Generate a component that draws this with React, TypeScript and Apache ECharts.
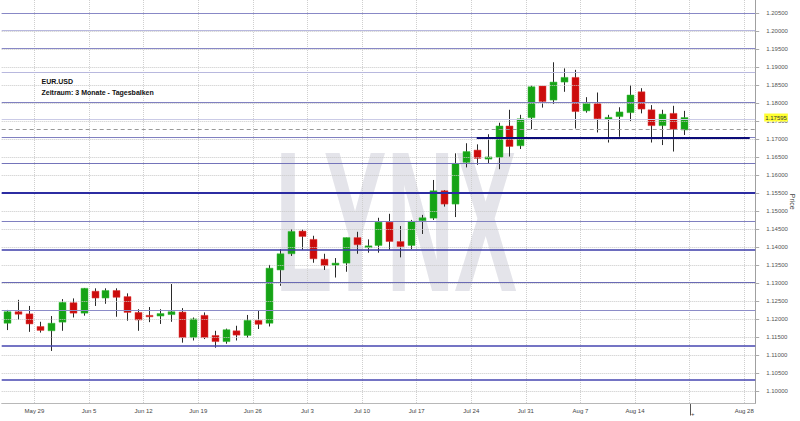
import React, { useEffect, useRef } from "react";
import * as echarts from "echarts";

const categories = [
  "2017-05-24", "2017-05-25", "2017-05-26",
  "2017-05-29", "2017-05-30", "2017-05-31", "2017-06-01", "2017-06-02",
  "2017-06-05", "2017-06-06", "2017-06-07", "2017-06-08", "2017-06-09",
  "2017-06-12", "2017-06-13", "2017-06-14", "2017-06-15", "2017-06-16",
  "2017-06-19", "2017-06-20", "2017-06-21", "2017-06-22", "2017-06-23",
  "2017-06-26", "2017-06-27", "2017-06-28", "2017-06-29", "2017-06-30",
  "2017-07-03", "2017-07-04", "2017-07-05", "2017-07-06", "2017-07-07",
  "2017-07-10", "2017-07-11", "2017-07-12", "2017-07-13", "2017-07-14",
  "2017-07-17", "2017-07-18", "2017-07-19", "2017-07-20", "2017-07-21",
  "2017-07-24", "2017-07-25", "2017-07-26", "2017-07-27", "2017-07-28",
  "2017-07-31", "2017-08-01", "2017-08-02", "2017-08-03", "2017-08-04",
  "2017-08-07", "2017-08-08", "2017-08-09", "2017-08-10", "2017-08-11",
  "2017-08-14", "2017-08-15", "2017-08-16", "2017-08-17", "2017-08-18",
  "2017-08-21", "2017-08-22", "2017-08-23", "2017-08-24", "2017-08-25",
  "2017-08-28",
];

const opens = [
  1.1188, 1.1220, 1.1214, 1.1179, 1.1167, 1.1191, 1.1245, 1.1216, 1.1277, 1.1258,
  1.1279, 1.1262, 1.1218, 1.1210, 1.1208, 1.1212, 1.1219, 1.1148, 1.1210, 1.1154,
  1.1137, 1.1167, 1.1154, 1.1196, 1.1188, 1.1336, 1.1381, 1.1444, 1.1421, 1.1366,
  1.1349, 1.1355, 1.1426, 1.1398, 1.1404, 1.1469, 1.1415, 1.1404, 1.1473, 1.1480,
  1.1556, 1.1519, 1.1635, 1.1669, 1.1644, 1.1649, 1.1736, 1.1681, 1.1759, 1.1847,
  1.1808, 1.1858, 1.1871, 1.1778, 1.1799, 1.1755, 1.1762, 1.1773, 1.1831, 1.1781,
  1.1737, 1.1771, 1.1725,
];
const closes = [
  1.1220, 1.1213, 1.1186, 1.1168, 1.1188, 1.1246, 1.1216, 1.1285, 1.1258, 1.1279,
  1.1260, 1.1218, 1.1197, 1.1206, 1.1215, 1.1220, 1.1148, 1.1200, 1.1148, 1.1137,
  1.1170, 1.1155, 1.1196, 1.1185, 1.1341, 1.1381, 1.1443, 1.1429, 1.1367, 1.1348,
  1.1355, 1.1426, 1.1406, 1.1403, 1.1469, 1.1415, 1.1401, 1.1471, 1.1481, 1.1556,
  1.1519, 1.1632, 1.1665, 1.1646, 1.1650, 1.1736, 1.1679, 1.1756, 1.1845, 1.1804,
  1.1858, 1.1871, 1.1776, 1.1799, 1.1756, 1.1760, 1.1775, 1.1822, 1.1783, 1.1737,
  1.1769, 1.1727, 1.17595,
];
const lows = [
  1.1169, 1.1197, 1.1164, 1.1162, 1.1111, 1.1167, 1.1204, 1.1209, 1.1236, 1.1242,
  1.1206, 1.1195, 1.1167, 1.1191, 1.1186, 1.1192, 1.1134, 1.1140, 1.1144, 1.1120,
  1.1131, 1.1140, 1.1148, 1.1172, 1.1179, 1.1292, 1.1375, 1.1392, 1.1356, 1.1336,
  1.1315, 1.1331, 1.1381, 1.1384, 1.1384, 1.1392, 1.1371, 1.1394, 1.1436, 1.1475,
  1.1512, 1.1483, 1.1621, 1.1628, 1.1632, 1.1616, 1.1651, 1.1672, 1.1727, 1.1787,
  1.1797, 1.1831, 1.1729, 1.1773, 1.1718, 1.1690, 1.1706, 1.1750, 1.1771, 1.1690,
  1.1683, 1.1665, 1.1711,
];
const highs = [
  1.1225, 1.1253, 1.1236, 1.1192, 1.1208, 1.1255, 1.1257, 1.1286, 1.1285, 1.1285,
  1.1285, 1.1271, 1.1227, 1.1233, 1.1227, 1.1297, 1.1230, 1.1204, 1.1218, 1.1167,
  1.1173, 1.1181, 1.1211, 1.1223, 1.1350, 1.1394, 1.1449, 1.1449, 1.1431, 1.1381,
  1.1369, 1.1426, 1.1442, 1.1421, 1.1481, 1.1492, 1.1458, 1.1475, 1.1489, 1.1586,
  1.1558, 1.1660, 1.1688, 1.1685, 1.1713, 1.1745, 1.1781, 1.1767, 1.1848, 1.1847,
  1.1913, 1.1896, 1.1892, 1.1816, 1.1829, 1.1767, 1.1788, 1.1850, 1.1841, 1.1794,
  1.1781, 1.1792, 1.1778,
];

const tickDates = [
  "2017-05-29", "2017-06-05", "2017-06-12", "2017-06-19", "2017-06-26", "2017-07-03", "2017-07-10",
  "2017-07-17", "2017-07-24", "2017-07-31", "2017-08-07", "2017-08-14", "2017-08-21", "2017-08-28",
];
const tickLabels = [
  "May 29", "Jun 5", "Jun 12", "Jun 19", "Jun 26", "Jul 3", "Jul 10",
  "Jul 17", "Jul 24", "Jul 31", "Aug 7", "Aug 14", "+", "Aug 28",
];
const markerDate = "2017-08-21";

const priceTicks = [
  1.1, 1.105, 1.11, 1.115, 1.12, 1.125, 1.13, 1.135, 1.14, 1.145, 1.15,
  1.155, 1.16, 1.165, 1.17, 1.175, 1.18, 1.185, 1.19, 1.195, 1.2, 1.205,
];

const levelLines = [
  1.2050, 1.2003, 1.1953, 1.1884, 1.1802, 1.1755, 1.1704, 1.1632,
  1.1551, 1.1470, 1.1392, 1.1303, 1.1225, 1.1125, 1.1031,
];
const supportLevel = 1.1704;
const supportStart = "2017-07-24";
const lastPrice = 1.17595;
const prevClose = 1.1727;

const titleSymbol = "EUR.USD";
const titlePeriod = "Zeitraum: 3 Monate - Tagesbalken";
const watermark = "LYNX";

const Y_MIN = 1.0965;
const Y_MAX = 1.2086;

// styles for level lines (same order as levelLines)
const levelStyles = [
  { color: "#8888c6", width: 1 },
  { color: "#b8b8de", width: 1 },
  { color: "#8888c6", width: 1 },
  { color: "#b8b8de", width: 1 },
  { color: "#8080c0", width: 1 },
  { color: "#cacae6", width: 1 },
  { color: "#8080c0", width: 1 },
  { color: "#7474ba", width: 1 },
  { color: "#2c2ca2", width: 2 },
  { color: "#8080c0", width: 1 },
  { color: "#3c3ca8", width: 1.5 },
  { color: "#6a6ab4", width: 1 },
  { color: "#8c8cc8", width: 1 },
  { color: "#4646b0", width: 1.5 },
  { color: "#4646b0", width: 1.5 },
];

export default function App() {
  const ref = useRef<HTMLDivElement>(null);

  useEffect(() => {
    if (!ref.current) return;
    document.body.style.margin = "0";
    document.documentElement.style.overflow = "hidden";
    document.body.style.overflow = "hidden";

    const chart = echarts.init(ref.current, undefined, { renderer: "svg", width: 800, height: 421 });

    const tickMap: Record<string, string> = {};
    tickDates.forEach((d, i) => (tickMap[d] = tickLabels[i]));

    const candleData = opens.map((o, i) => [categories[i], o, closes[i], lows[i], highs[i]]);

    const font = "'Liberation Sans', Arial, sans-serif";

    const option: any = {
      animation: false,
      grid: {
        left: 1.7,
        right: 44.8,
        top: 0,
        bottom: 17.5,
        containLabel: false,
        outerBoundsMode: "none",
      },
      graphic: [
        {
          type: "text",
          id: "wm",
          z: -10,
          left: 275,
          top: 122,
          style: {
            text: watermark,
            fill: "#e4e4ea",
            font: "bold 200px 'Liberation Sans', Arial, sans-serif",
          },
          scaleX: 0.47,
          silent: true,
        },
        {
          type: "text",
          id: "t1",
          left: 41.5,
          top: 77.5,
          z: 100,
          style: { text: titleSymbol, fill: "#111", font: "bold 7px " + font },
        },
        {
          type: "text",
          id: "t2",
          left: 41.5,
          top: 88.5,
          z: 100,
          style: { text: titlePeriod, fill: "#111", font: "bold 7px " + font },
        },
      ],
      xAxis: {
        type: "category",
        data: categories,
        boundaryGap: true,
        axisLine: { show: true, lineStyle: { color: "#b8b8b8", width: 1 } },
        axisTick: { show: false },
        axisLabel: {
          interval: (_i: number, v: string) => tickMap[v] !== undefined,
          formatter: (v: string) => (v === markerDate ? "{m|+}" : tickMap[v] ?? ""),
          fontSize: 6,
          fontFamily: font,
          color: "#444",
          margin: 4,
          padding: [0, 11, 0, 0],
          rich: { m: { fontSize: 6, fontFamily: font, color: "#444", padding: [3, 0, 0, 6] } },
        },
        splitLine: {
          show: true,
          interval: (_i: number, v: string) => tickMap[v] !== undefined,
          lineStyle: { color: "#cfcfcf", type: "dotted", width: 1 },
        },
      },
      yAxis: {
        type: "value",
        position: "right",
        min: Y_MIN,
        max: Y_MAX,
        scale: true,
        name: "Price",
        nameLocation: "middle",
        nameRotate: -90,
        nameGap: 34,
        nameMoveOverlap: false,
        nameTextStyle: { fontSize: 7, fontFamily: font, color: "#444" },
        axisLine: { show: true, lineStyle: { color: "#a0a0a0", width: 1 } },
        axisTick: {
          show: true,
          customValues: priceTicks,
          length: 4,
          lineStyle: { color: "#aaa" },
        },
        axisLabel: {
          customValues: priceTicks,
          formatter: (v: number) => v.toFixed(5),
          fontSize: 6,
          fontFamily: font,
          color: "#555",
          margin: 11,
        },
        splitLine: { show: false },
      },
      series: [
        {
          type: "line",
          data: categories.map(() => null),
          z: 1,
          silent: true,
          symbol: "none",
          markLine: {
            silent: true,
            precision: 6,
            symbol: ["none", "none"],
            label: { show: false },
            data: priceTicks.map((v) => ({
              yAxis: v,
              lineStyle: { color: "#c8c8c8", type: "dotted", width: 1 },
            })),
          },
        },
        {
          type: "custom",
          z: 2,
          data: candleData,
          encode: { x: 0, y: [1, 2, 3, 4] },
          renderItem: (_params: any, api: any) => {
            const xi = api.value(0);
            const o = api.value(1);
            const c = api.value(2);
            const l = api.value(3);
            const h = api.value(4);
            const pO = api.coord([xi, o]);
            const pC = api.coord([xi, c]);
            const pL = api.coord([xi, l]);
            const pH = api.coord([xi, h]);
            const band = api.size([1, 0])[0];
            const bw = Math.round(band * 0.64);
            const cx = Math.round(pO[0]) + 0.5;
            const top = Math.min(pO[1], pC[1]);
            const bottom = Math.max(pO[1], pC[1]);
            const up = c >= o;
            const fill = up ? "#16a316" : "#cc0c0c";
            return {
              type: "group",
              children: [
                {
                  type: "line",
                  shape: { x1: cx, y1: pH[1], x2: cx, y2: pL[1] },
                  style: { stroke: "#2a2a2a", lineWidth: 1 },
                },
                {
                  type: "rect",
                  shape: { x: cx - bw / 2, y: top, width: bw, height: Math.max(1.5, bottom - top) },
                  style: { fill, stroke: up ? "#3cbc3c" : "#e04040", lineWidth: 0.5 },
                },
              ],
            };
          },
        },
        {
          type: "line",
          data: categories.map(() => null),
          z: 3,
          silent: true,
          symbol: "none",
          markLine: {
            silent: true,
            precision: 6,
            symbol: ["none", "none"],
            label: { show: false },
            data: [
              ...levelLines.map((v, i) => ({
                yAxis: v,
                lineStyle: { color: levelStyles[i].color, width: levelStyles[i].width, type: "solid" },
              })),
              {
                yAxis: prevClose,
                lineStyle: { color: "#999", width: 1, type: [4, 3] },
              },
              [
                {
                  coord: [supportStart, supportLevel],
                  lineStyle: { color: "#0c0c78", width: 2, type: "solid" },
                },
                { coord: [categories[categories.length - 1], supportLevel] },
              ],
              {
                yAxis: lastPrice,
                lineStyle: { color: "rgba(0,0,0,0)", width: 1 },
                label: {
                  show: true,
                  position: "end",
                  distance: 9,
                  formatter: () => lastPrice.toFixed(5),
                  backgroundColor: "#ffff30",
                  color: "#333",
                  fontSize: 6,
                  fontFamily: font,
                  padding: [1, 1, 1, 1],
                },
              },
            ],
          },
        },
      ],
    };

    chart.setOption(option);

    // marker tick below the x axis at the start of the marker week, placed through the axis scales
    const band = (chart.convertToPixel({ xAxisIndex: 0 }, categories[1]) as number) -
      (chart.convertToPixel({ xAxisIndex: 0 }, categories[0]) as number);
    const mx = (chart.convertToPixel({ xAxisIndex: 0 }, markerDate) as number) - band / 2;
    const my = chart.convertToPixel({ yAxisIndex: 0 }, Y_MIN) as number;
    chart.setOption({
      graphic: [
        {
          type: "line",
          id: "marker",
          shape: { x1: Math.round(mx) + 0.5, y1: my, x2: Math.round(mx) + 0.5, y2: my + 12 },
          style: { stroke: "#555", lineWidth: 1 },
          silent: true,
        },
      ],
    });

    return () => chart.dispose();
  }, []);

  return (
    <div
      ref={ref}
      style={{ position: "absolute", left: 0, top: 0, width: 800, height: 421, background: "#fff" }}
    />
  );
}
